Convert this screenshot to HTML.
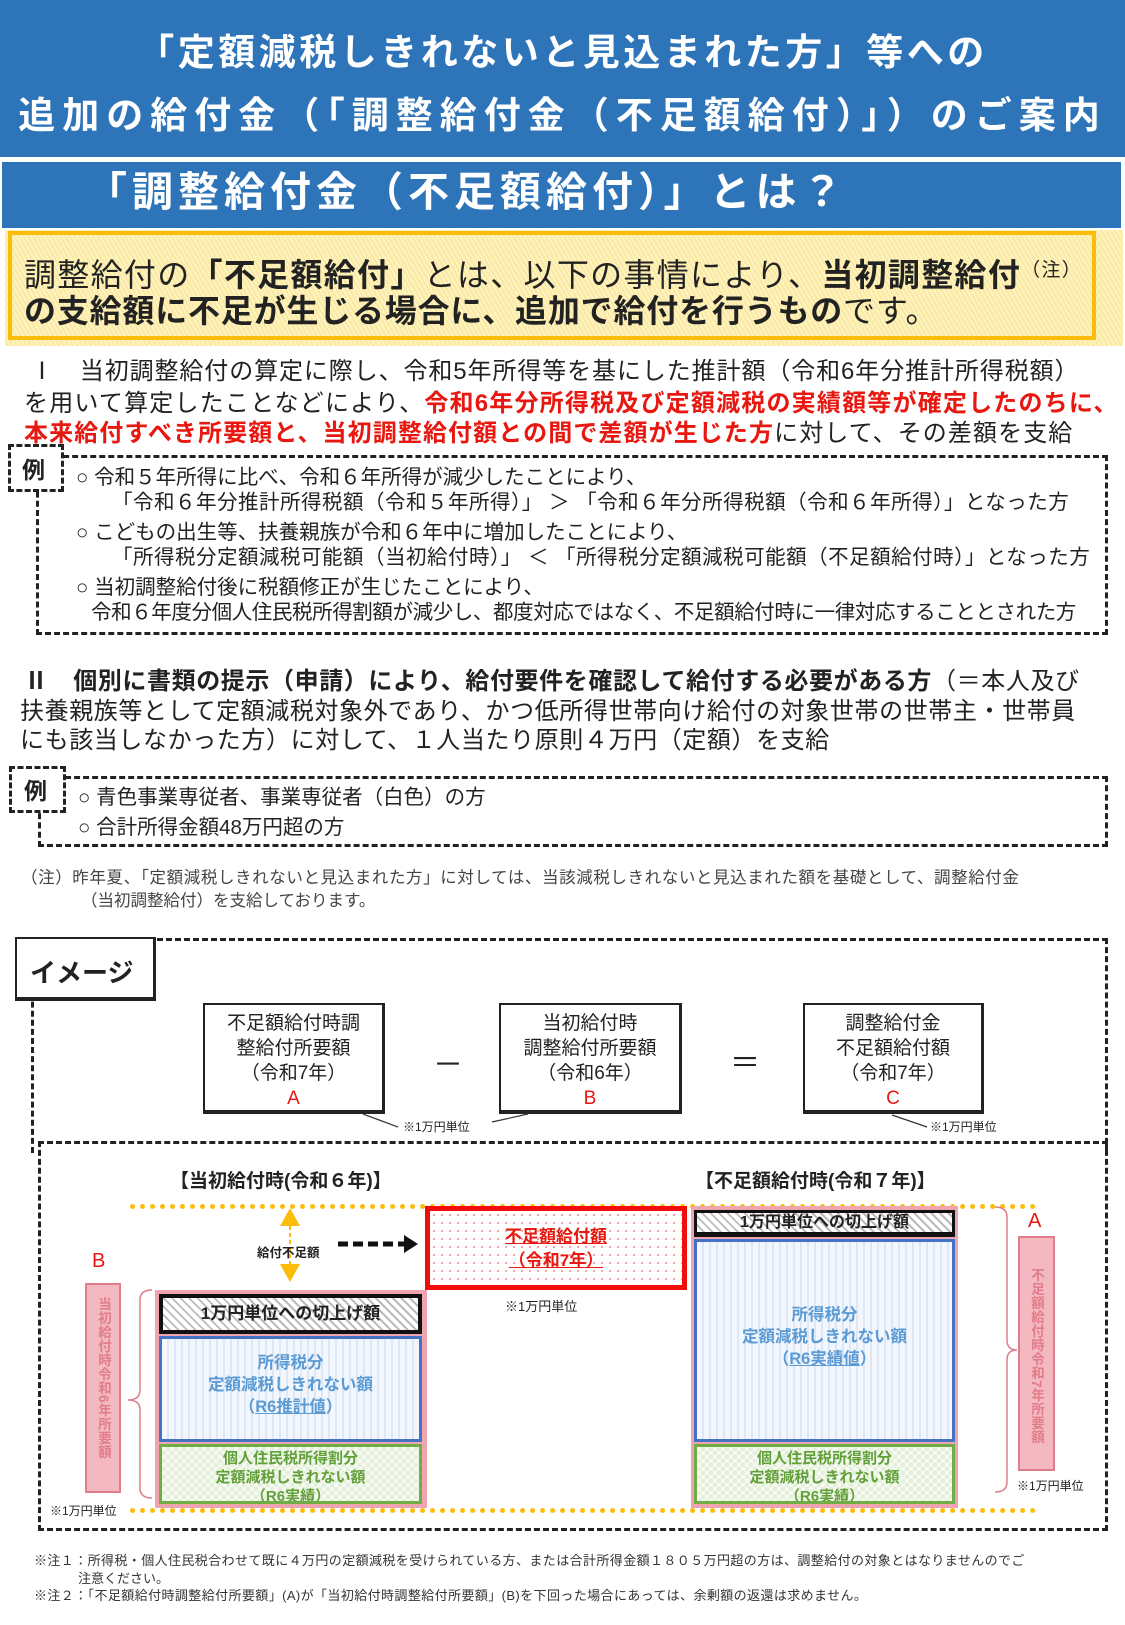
<!DOCTYPE html>
<html><head><meta charset="utf-8"><style>
*{margin:0;padding:0;box-sizing:border-box}
body{width:1125px;height:1625px;position:relative;background:#fff;font-family:"Liberation Sans","Noto Sans CJK JP",sans-serif;overflow:hidden;color:#222}
.a{position:absolute;white-space:nowrap}
.b{font-weight:bold}
.red{color:#e8170f;font-weight:bold}
.dash{position:absolute;border:3px dashed #222}
.box{position:absolute;border:2px solid #222;border-right-width:3px;border-bottom-width:4px;background:#fff;text-align:center;font-size:19px;line-height:25px;padding-top:6px}
.ex{font-size:20.5px}
.s1{font-size:24px}
</style></head><body>
<!-- header -->
<div class="a" style="left:0;top:0;width:1125px;height:157px;background:#2e74b8"></div>
<div class="a b" style="left:0;top:22px;width:1125px;text-align:center;color:#fff;font-size:37px;letter-spacing:3.5px">「定額減税しきれないと見込まれた方」等への</div>
<div class="a b" style="left:0;top:85px;width:1125px;text-align:center;color:#fff;font-size:37px;letter-spacing:7px">追加の給付金（「調整給付金（不足額給付）」）のご案内</div>
<div class="a" style="left:2px;top:162px;width:1119px;height:66px;background:#2e74b8;border-right:3px solid #2e74b8"></div>
<div class="a b" style="left:86px;top:158px;color:#fff;font-size:41px;letter-spacing:5px">「調整給付金（不足額給付）」とは？</div>
<!-- yellow box -->
<div class="a" style="left:5px;top:230px;width:1118px;height:116px;background:repeating-linear-gradient(60deg,#fdf3c4 0 2px,#fbe9a0 2px 4px)"></div>
<div class="a" style="left:8px;top:231px;width:1088px;height:109px;border:4px solid #fbbc0a"></div>
<div class="a" style="left:24px;top:250px;font-size:32px;letter-spacing:1.3px">調整給付の<span class="b">「不足額給付」</span>とは、以下の事情により、<span class="b">当初調整給付</span><span style="font-size:19px;vertical-align:10px">（注）</span></div>
<div class="a" style="left:24px;top:286px;font-size:32px;letter-spacing:0.8px"><span class="b">の支給額に不足が生じる場合に、追加で給付を行うもの</span>です。</div>
<!-- section I -->
<div class="a s1" style="left:30px;top:351px;letter-spacing:0.9px">Ⅰ　当初調整給付の算定に際し、令和5年所得等を基にした推計額（令和6年分推計所得税額）</div>
<div class="a s1" style="left:24px;top:383px;letter-spacing:1.2px">を用いて算定したことなどにより、<span class="red">令和6年分所得税及び定額減税の実績額等が確定したのちに、</span></div>
<div class="a s1" style="left:24px;top:413px;letter-spacing:1.1px"><span class="red">本来給付すべき所要額と、当初調整給付額との間で差額が生じた方</span>に対して、その差額を支給</div>
<div class="dash" style="left:36px;top:455px;width:1072px;height:180px"></div>
<div class="dash" style="left:8px;top:444px;width:56px;height:48px;background:#fff"></div>
<div class="a b" style="left:22px;top:451px;font-size:23px">例</div>
<div class="a ex" style="left:76px;top:460px">○ 令和５年所得に比べ、令和６年所得が減少したことにより、</div>
<div class="a ex" style="left:112px;top:485px;letter-spacing:0.5px">「令和６年分推計所得税額（令和５年所得）」 ＞ 「令和６年分所得税額（令和６年所得）」となった方</div>
<div class="a ex" style="left:76px;top:515px">○ こどもの出生等、扶養親族が令和６年中に増加したことにより、</div>
<div class="a ex" style="left:112px;top:540px;letter-spacing:0.5px">「所得税分定額減税可能額（当初給付時）」 ＜ 「所得税分定額減税可能額（不足額給付時）」となった方</div>
<div class="a ex" style="left:76px;top:570px">○ 当初調整給付後に税額修正が生じたことにより、</div>
<div class="a ex" style="left:91px;top:595px;letter-spacing:-0.4px">令和６年度分個人住民税所得割額が減少し、都度対応ではなく、不足額給付時に一律対応することとされた方</div>
<!-- section II -->
<div class="a s1" style="left:24px;top:661px;letter-spacing:0.6px"><span class="b">Ⅱ　個別に書類の提示（申請）により、給付要件を確認して給付する必要がある方</span>（＝本人及び</div>
<div class="a s1" style="left:20px;top:691px;letter-spacing:0.6px">扶養親族等として定額減税対象外であり、かつ低所得世帯向け給付の対象世帯の世帯主・世帯員</div>
<div class="a s1" style="left:20px;top:720px;letter-spacing:0.6px">にも該当しなかった方）に対して、１人当たり原則４万円（定額）を支給</div>
<div class="dash" style="left:38px;top:776px;width:1070px;height:71px"></div>
<div class="dash" style="left:9px;top:766px;width:57px;height:47px;background:#fff"></div>
<div class="a b" style="left:24px;top:772px;font-size:23px">例</div>
<div class="a ex" style="left:78px;top:780px">○ 青色事業専従者、事業専従者（白色）の方</div>
<div class="a ex" style="left:78px;top:810px">○ 合計所得金額48万円超の方</div>
<div class="a" style="left:21px;top:864px;font-size:16.5px;color:#444;letter-spacing:0.6px">（注）昨年夏、「定額減税しきれないと見込まれた方」に対しては、当該減税しきれないと見込まれた額を基礎として、調整給付金</div>
<div class="a" style="left:81px;top:887px;font-size:16.5px;color:#444">（当初調整給付）を支給しております。</div>
<!-- image section -->
<div class="dash" style="left:31px;top:938px;width:1077px;height:215px;border-bottom:none"></div>
<div class="a" style="left:15px;top:937px;width:141px;height:64px;border:2px solid #222;border-right-width:3px;border-bottom-width:4px;background:#fff"></div>
<div class="a b" style="left:30px;top:953px;font-size:26px">イメージ</div>
<div class="box" style="left:203px;top:1003px;width:182px;height:111px">不足額給付時調<br>整給付所要額<br>（令和7年）<br><span style="color:#e8170f">A</span></div>
<div class="box" style="left:499px;top:1003px;width:183px;height:111px">当初給付時<br>調整給付所要額<br>（令和6年）<br><span style="color:#e8170f">B</span></div>
<div class="box" style="left:803px;top:1003px;width:181px;height:111px">調整給付金<br>不足額給付額<br>（令和7年）<br><span style="color:#e8170f">C</span></div>
<div class="a" style="left:433px;top:1040px;font-size:30px">－</div>
<div class="a" style="left:730px;top:1038px;font-size:30px">＝</div>
<svg class="a" style="left:0;top:0" width="1125" height="1625">
<line x1="363" y1="1114" x2="398" y2="1127" stroke="#333" stroke-width="1.2"/>
<line x1="492" y1="1122" x2="528" y2="1114" stroke="#333" stroke-width="1.2"/>
<line x1="892" y1="1115" x2="927" y2="1127" stroke="#333" stroke-width="1.2"/>
</svg>
<div class="a" style="left:403px;top:1118px;font-size:12px">※1万円単位</div>
<div class="a" style="left:930px;top:1118px;font-size:12px">※1万円単位</div>
<div class="dash" style="left:38px;top:1141px;width:1070px;height:390px"></div>
<div class="a b" style="left:170px;top:1166px;font-size:19px">【当初給付時(令和６年)】</div>
<div class="a b" style="left:695px;top:1166px;font-size:19px">【不足額給付時(令和７年)】</div>
<!-- yellow dotted lines -->
<div class="a" style="left:130px;top:1204px;width:906px;border-top:5px dotted #fbbc0a"></div>
<div class="a" style="left:130px;top:1508px;width:906px;border-top:5px dotted #fbbc0a"></div>
<!-- red box -->
<div class="a" style="left:425px;top:1206px;width:262px;height:84px;border:5px solid #f20c0c;background:radial-gradient(#f4a0a0 1px,transparent 1.3px) 0 0/8px 8px,#fff;text-align:center;color:#e8170f;font-weight:bold;font-size:17px;line-height:24px;padding-top:14px"><u>不足額給付額</u><br><u>（令和7年）</u></div>
<div class="a" style="left:505px;top:1296px;font-size:13px">※1万円単位</div>
<svg class="a" style="left:0;top:0" width="1125" height="1625">
<polygon points="290,1208 280,1226 300,1226" fill="#fbbc0a"/>
<polygon points="290,1282 280,1264 300,1264" fill="#fbbc0a"/>
<line x1="290" y1="1226" x2="290" y2="1264" stroke="#fbbc0a" stroke-width="2" stroke-dasharray="4 3"/>
<line x1="338" y1="1244" x2="408" y2="1244" stroke="#111" stroke-width="5" stroke-dasharray="10 5"/>
<polygon points="418,1244 404,1235 404,1253" fill="#111"/>
<path d="M152 1290 Q140 1290 140 1300 L140 1390 Q140 1400 128 1400 Q140 1400 140 1410 L140 1488 Q140 1498 152 1498" fill="none" stroke="#e07d8a" stroke-width="1.5"/>
<path d="M995 1207 Q1007 1207 1007 1217 L1007 1340 Q1007 1350 1017 1350 Q1007 1350 1007 1360 L1007 1482 Q1007 1492 995 1492" fill="none" stroke="#e07d8a" stroke-width="1.5"/>
</svg>
<div class="a b" style="left:257px;top:1242px;font-size:12.5px">給付不足額</div>
<!-- left stack -->
<div class="a" style="left:155px;top:1290px;width:272px;height:218px;background:#eea5b0"></div>
<div class="a" style="left:159px;top:1294px;width:263px;height:40px;border:4px solid #111;background:repeating-linear-gradient(45deg,#fff 0 4px,#bbb 4px 6px);text-align:center;font-weight:bold;font-size:17px;line-height:32px">1万円単位への切上げ額</div>
<div class="a" style="left:159px;top:1336px;width:263px;height:106px;border:3px solid #4472c4;background:repeating-linear-gradient(90deg,#f3f7fd 0 5px,#dde8f6 5px 7px);text-align:center;color:#5b9bd5;font-weight:bold;font-size:16.5px;line-height:22px;padding-top:13px">所得税分<br>定額減税しきれない額<br>（<u>R6推計値</u>）</div>
<div class="a" style="left:159px;top:1444px;width:263px;height:60px;border:3px solid #70ad47;background:repeating-conic-gradient(#e4f0da 0 25%,#f6faf2 0 50%) 0 0/8px 8px;text-align:center;color:#62a03a;font-weight:bold;font-size:15px;line-height:19px;padding-top:2px;overflow:hidden">個人住民税所得割分<br>定額減税しきれない額<br>（R6実績）</div>
<!-- right stack -->
<div class="a" style="left:691px;top:1206px;width:267px;height:302px;background:#eea5b0"></div>
<div class="a" style="left:694px;top:1210px;width:261px;height:27px;border:3px solid #111;border-bottom-width:5px;background:repeating-linear-gradient(45deg,#fff 0 4px,#bbb 4px 6px);text-align:center;font-weight:bold;font-size:16px;line-height:20px">1万円単位への切上げ額</div>
<div class="a" style="left:694px;top:1239px;width:261px;height:203px;border:3px solid #4472c4;background:repeating-linear-gradient(90deg,#f3f7fd 0 5px,#dde8f6 5px 7px);text-align:center;color:#5b9bd5;font-weight:bold;font-size:16.5px;line-height:22px;padding-top:62px">所得税分<br>定額減税しきれない額<br>（<u>R6実績値</u>）</div>
<div class="a" style="left:694px;top:1444px;width:261px;height:60px;border:3px solid #70ad47;background:repeating-conic-gradient(#e4f0da 0 25%,#f6faf2 0 50%) 0 0/8px 8px;text-align:center;color:#62a03a;font-weight:bold;font-size:15px;line-height:19px;padding-top:2px;overflow:hidden">個人住民税所得割分<br>定額減税しきれない額<br>（R6実績）</div>
<!-- B / A bars -->
<div class="a" style="left:92px;top:1250px;font-size:20px;color:#e8170f">B</div>
<div class="a" style="left:85px;top:1283px;width:36px;height:210px;background:#f4b8c0;border:2px solid #e07d8a;writing-mode:vertical-rl;font-size:13.5px;font-weight:bold;color:#e07d8a;line-height:32px;padding-top:12px;letter-spacing:0.5px">当初給付時令和6年所要額</div>
<div class="a" style="left:1028px;top:1210px;font-size:20px;color:#e8170f">A</div>
<div class="a" style="left:1018px;top:1236px;width:37px;height:235px;background:#f4b8c0;border:2px solid #e07d8a;writing-mode:vertical-rl;font-size:13.5px;font-weight:bold;color:#e07d8a;line-height:33px;padding-top:30px;letter-spacing:0.5px">不足額給付時令和7年所要額</div>
<div class="a" style="left:50px;top:1502px;font-size:12px">※1万円単位</div>
<div class="a" style="left:1017px;top:1477px;font-size:12px">※1万円単位</div>
<!-- footnotes -->
<div class="a" style="left:34px;top:1550px;font-size:13px;color:#333;letter-spacing:0.4px">※注１：所得税・個人住民税合わせて既に４万円の定額減税を受けられている方、または合計所得金額１８０５万円超の方は、調整給付の対象とはなりませんのでご</div>
<div class="a" style="left:78px;top:1568px;font-size:13px;color:#333">注意ください。</div>
<div class="a" style="left:34px;top:1585px;font-size:13px;color:#333;letter-spacing:0.4px">※注２：「不足額給付時調整給付所要額」(A)が「当初給付時調整給付所要額」(B)を下回った場合にあっては、余剰額の返還は求めません。</div>
</body></html>
